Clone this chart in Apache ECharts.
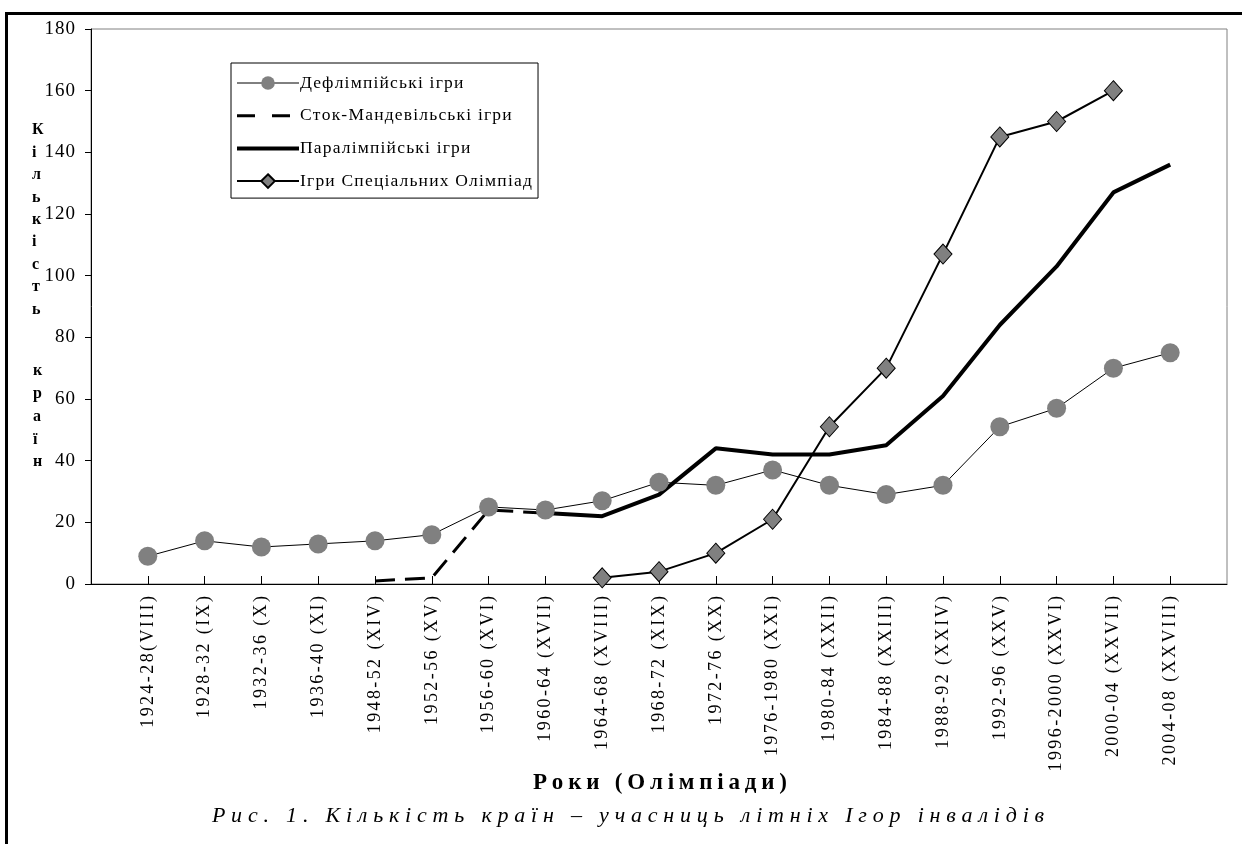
<!DOCTYPE html>
<html>
<head>
<meta charset="utf-8">
<script src="https://cdn.jsdelivr.net/npm/echarts@6/dist/echarts.min.js"></script>
<style>
html,body{margin:0;padding:0;background:#fff;}
#chart{width:1242px;height:844px;}
</style>
</head>
<body>
<div id="chart"></div>
<script>
// ---- data ----
const categories = ['1924-28(VIII)', '1928-32 (IX)', '1932-36 (X)', '1936-40 (XI)', '1948-52 (XIV)', '1952-56 (XV)',
  '1956-60 (XVI)', '1960-64 (XVII)', '1964-68 (XVIII)', '1968-72 (XIX)', '1972-76 (XX)', '1976-1980 (XXI)',
  '1980-84 (XXII)', '1984-88 (XXIII)', '1988-92 (XXIV)', '1992-96 (XXV)', '1996-2000 (XXVI)', '2000-04 (XXVII)', '2004-08 (XXVIII)'];
const seriesNames = ['Дефлімпійські ігри', 'Сток-Мандевільські ігри', 'Паралімпійські ігри', 'Ігри Спеціальних Олімпіад'];
const deaflympics = [9, 14, 12, 13, 14, 16, 25, 24, 27, 33, 32, 37, 32, 29, 32, 51, 57, 70, 75];
const stokeMandeville = [null, null, null, null, 1, 2, 24, 23, null, null, null, null, null, null, null, null, null, null, null];
const paralympics = [null, null, null, null, null, null, null, 23, 22, 29, 44, 42, 42, 45, 61, 84, 103, 127, 136];
const specialOlympics = [null, null, null, null, null, null, null, null, 2, 4, 10, 21, 51, 70, 107, 145, 150, 160, null];
const yTicks = [0, 20, 40, 60, 80, 100, 120, 140, 160, 180];
const yTitleWord1 = ['К', 'і', 'л', 'ь', 'к', 'і', 'с', 'т', 'ь'];
const yTitleWord2 = ['к', 'р', 'а', 'ї', 'н'];
const xTitle = 'Роки (Олімпіади)';
const caption = 'Рис. 1. Кількість країн – учасниць літніх Ігор інвалідів';

// ---- wide character spacing of the original (EMF-like text), applied per font ----
const SPACING = [
  ['italic 22px', 5.8],
  ['bold 23px', 4.8],
  ['bold 16px', 0],
  ['17.5px', 1.2],
  ['18px', 2.4],
  ['19px', 1.0]
];
function spacingFor(font) {
  for (const [k, v] of SPACING) { if (font.indexOf(k) === 0 || font.indexOf(' ' + k) >= 0) return v; }
  return 0;
}
(function () {
  const P = CanvasRenderingContext2D.prototype;
  const origMeasure = P.measureText, origFill = P.fillText;
  P.measureText = function (text) {
    const m = origMeasure.call(this, text);
    const sp = spacingFor(this.font);
    const n = Array.from(String(text)).length;
    if (!sp || n < 2) return m;
    const extra = sp * (n - 1);
    return {
      width: m.width + extra,
      actualBoundingBoxLeft: m.actualBoundingBoxLeft,
      actualBoundingBoxRight: m.actualBoundingBoxRight + extra,
      actualBoundingBoxAscent: m.actualBoundingBoxAscent,
      actualBoundingBoxDescent: m.actualBoundingBoxDescent,
      fontBoundingBoxAscent: m.fontBoundingBoxAscent,
      fontBoundingBoxDescent: m.fontBoundingBoxDescent
    };
  };
  P.fillText = function (text, x, y, maxW) {
    const sp = spacingFor(this.font);
    const chars = Array.from(String(text));
    if (!sp || chars.length < 2) return origFill.call(this, text, x, y);
    const widths = chars.map(c => origMeasure.call(this, c).width);
    const total = widths.reduce((a, b) => a + b, 0) + sp * (chars.length - 1);
    const align = this.textAlign;
    let start = x;
    if (align === 'center') start = x - total / 2;
    else if (align === 'right' || align === 'end') start = x - total;
    this.textAlign = 'left';
    let cx = start;
    for (let i = 0; i < chars.length; i++) { origFill.call(this, chars[i], cx, y); cx += widths[i] + sp; }
    this.textAlign = align;
  };
})();

// padded category axis: one empty slot at each end
const cats = [''].concat(categories, ['']);
const pad = arr => [null].concat(arr, [null]);

const FONT = '"Liberation Serif", "Times New Roman", serif';
const chart = echarts.init(document.getElementById('chart'), null, {renderer: 'canvas'});
chart.setOption({
  animation: false,
  backgroundColor: '#fff',
  grid: {left: 91, right: 15, top: 29, bottom: 260, show: true, borderColor: '#808080', borderWidth: 1},
  legend: {
    orient: 'vertical', left: 231, top: 63,
    data: [
      {name: seriesNames[0], lineStyle: {width: 1, color: '#000'}},
      {name: seriesNames[1], itemStyle: {opacity: 0}, lineStyle: {type: [18, 17], width: 3, color: '#000'}},
      {name: seriesNames[2], itemStyle: {opacity: 0}, lineStyle: {width: 4, color: '#000'}},
      {name: seriesNames[3], lineStyle: {width: 2, color: '#000'}}
    ],
    itemWidth: 62, itemHeight: 17, itemGap: 14.7,
    backgroundColor: '#fff', borderColor: '#000', borderWidth: 1,
    padding: [11, 6, 8, 4],
    textStyle: {fontFamily: FONT, fontSize: 17.5, color: '#000', padding: [0, 0, 0, -4]}
  },
  xAxis: {
    type: 'category', data: cats, boundaryGap: false,
    axisLine: {lineStyle: {color: '#000', width: 1}},
    axisTick: {inside: true, length: 8, lineStyle: {color: '#000'},
      interval: (i) => i > 0 && i < cats.length - 1},
    axisLabel: {rotate: 90, interval: 0, margin: 12, fontFamily: FONT, fontSize: 18, color: '#000'},
    splitLine: {show: false}
  },
  yAxis: {
    type: 'value', min: yTicks[0], max: yTicks[yTicks.length - 1], interval: 20,
    axisLine: {show: true, lineStyle: {color: '#000', width: 1}},
    axisTick: {show: true, length: 6, lineStyle: {color: '#000'}},
    axisLabel: {margin: 16, fontFamily: FONT, fontSize: 19, color: '#000'},
    splitLine: {show: false}
  },
  graphic: [
    {type: 'rect', left: 4, top: 11, shape: {width: 1260, height: 900}, style: {fill: 'none', stroke: '#000', lineWidth: 3}, z: 100},
    {type: 'text', left: 32, top: 119, style: {text: yTitleWord1.join('\n'), font: 'bold 16px ' + FONT, lineHeight: 22.4, fill: '#000', align: 'center'}},
    {type: 'text', left: 33, top: 360, style: {text: yTitleWord2.join('\n'), font: 'bold 16px ' + FONT, lineHeight: 22.7, fill: '#000', align: 'center'}},
    {type: 'text', x: 660, y: 783, style: {text: xTitle, font: 'bold 23px ' + FONT, fill: '#000', align: 'center', verticalAlign: 'middle'}},
    {type: 'text', x: 628, y: 816, style: {text: caption, font: 'italic 22px ' + FONT, fill: '#000', align: 'center', verticalAlign: 'middle'}}
  ],
  series: [
    {name: seriesNames[2], type: 'line', data: pad(paralympics), symbol: 'none', z: 2,
      lineStyle: {color: '#000', width: 4}, itemStyle: {color: '#000'}},
    {name: seriesNames[1], type: 'line', data: pad(stokeMandeville), symbol: 'none', z: 3,
      lineStyle: {color: '#000', width: 3, type: [20, 10]}, itemStyle: {color: '#000'}},
    {name: seriesNames[0], type: 'line', data: pad(deaflympics), symbol: 'circle', symbolSize: 19, z: 4,
      lineStyle: {color: '#000', width: 1}, itemStyle: {color: '#808080', borderWidth: 0}},
    {name: seriesNames[3], type: 'line', data: pad(specialOlympics), symbol: 'diamond', symbolSize: [18, 20], z: 5,
      lineStyle: {color: '#000', width: 2}, itemStyle: {color: '#808080', borderColor: '#000', borderWidth: 1}}
  ]
});
</script>
</body>
</html>
